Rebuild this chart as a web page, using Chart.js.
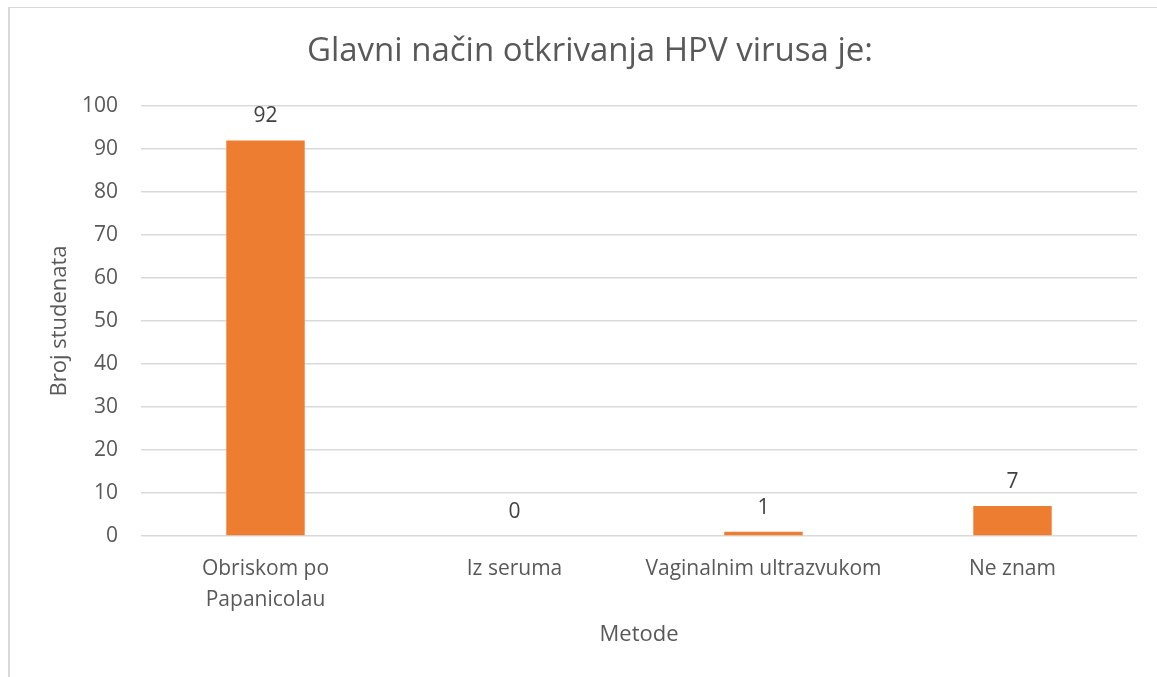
<!DOCTYPE html>
<html>
<head>
<meta charset="utf-8">
<script src="https://cdn.jsdelivr.net/npm/chart.js@4"></script>
<style>
  html, body { margin: 0; padding: 0; background: #fff; }
  #frame { position: absolute; left: 8px; top: 7px; width: 1149px; height: 670px;
           border-left: 2px solid #d9d9d9; border-top: 1px solid #d9d9d9; box-sizing: border-box; }
  #chart { position: absolute; left: 0; top: 0; }
</style>
</head>
<body>
<div id="frame"></div>
<canvas id="chart" width="1157" height="677"></canvas>
<script>
// podaci sa grafikona
const categories = [['Obriskom po', 'Papanicolau'], 'Iz seruma', 'Vaginalnim ultrazvukom', 'Ne znam'];
const values = [92, 0, 1, 7];
const yTicks = { min: 0, max: 100, step: 10 };

const chartTitle = 'Glavni način otkrivanja HPV virusa je:';
const xTitle = 'Metode';
const yTitle = 'Broj studenata';

const fontFamily = '"Open Sans", "Noto Sans", sans-serif';
const textColor = '#595959';

// ispis vrijednosti iznad stubaca
const valueLabels = {
    id: 'valueLabels',
    afterDatasetsDraw(chart) {
        const ctx = chart.ctx;
        const meta = chart.getDatasetMeta(0);
        ctx.save();
        ctx.font = '21px ' + fontFamily;
        ctx.fillStyle = '#404040';
        ctx.textAlign = 'center';
        ctx.textBaseline = 'middle';
        meta.data.forEach((bar, i) => {
            ctx.fillText(String(values[i]), bar.x, bar.y - 24);
        });
        ctx.restore();
    }
};

new Chart(document.getElementById('chart').getContext('2d'), {
    type: 'bar',
    data: {
        labels: categories,
        datasets: [{
            data: values,
            backgroundColor: '#ED7D31',
            borderWidth: 0,
            categoryPercentage: 1,
            barPercentage: 0.315
        }]
    },
    options: {
        responsive: false,
        animation: false,
        layout: { padding: { left: 42.8, right: 20, top: 0, bottom: 24.8 } },
        plugins: {
            legend: { display: false },
            tooltip: { enabled: false },
            title: {
                display: true,
                text: chartTitle,
                color: textColor,
                font: { family: fontFamily, size: 33, weight: 'normal', lineHeight: 1.2 },
                padding: { top: 32, bottom: 34.4 }
            }
        },
        scales: {
            x: {
                grid: { display: false, drawTicks: false },
                border: { display: false },
                ticks: {
                    color: textColor,
                    font: { family: fontFamily, size: 21, lineHeight: 1.45 },
                    padding: 18,
                    maxRotation: 0,
                    autoSkip: false
                },
                title: {
                    display: true,
                    text: xTitle,
                    color: textColor,
                    font: { family: fontFamily, size: 22, lineHeight: 1.2 }
                },
                afterFit(scale) { scale.height = 116.2; }
            },
            y: {
                min: yTicks.min,
                max: yTicks.max,
                grid: { color: '#d9d9d9', lineWidth: 1.5, drawTicks: false },
                border: { display: false },
                ticks: {
                    stepSize: yTicks.step,
                    color: textColor,
                    font: { family: fontFamily, size: 21 },
                    padding: 23
                },
                title: {
                    display: true,
                    text: yTitle,
                    color: textColor,
                    font: { family: fontFamily, size: 22, lineHeight: 1.2 }
                },
                afterFit(scale) { scale.width = 98.2; }
            }
        }
    },
    plugins: [valueLabels]
});
</script>
</body>
</html>
